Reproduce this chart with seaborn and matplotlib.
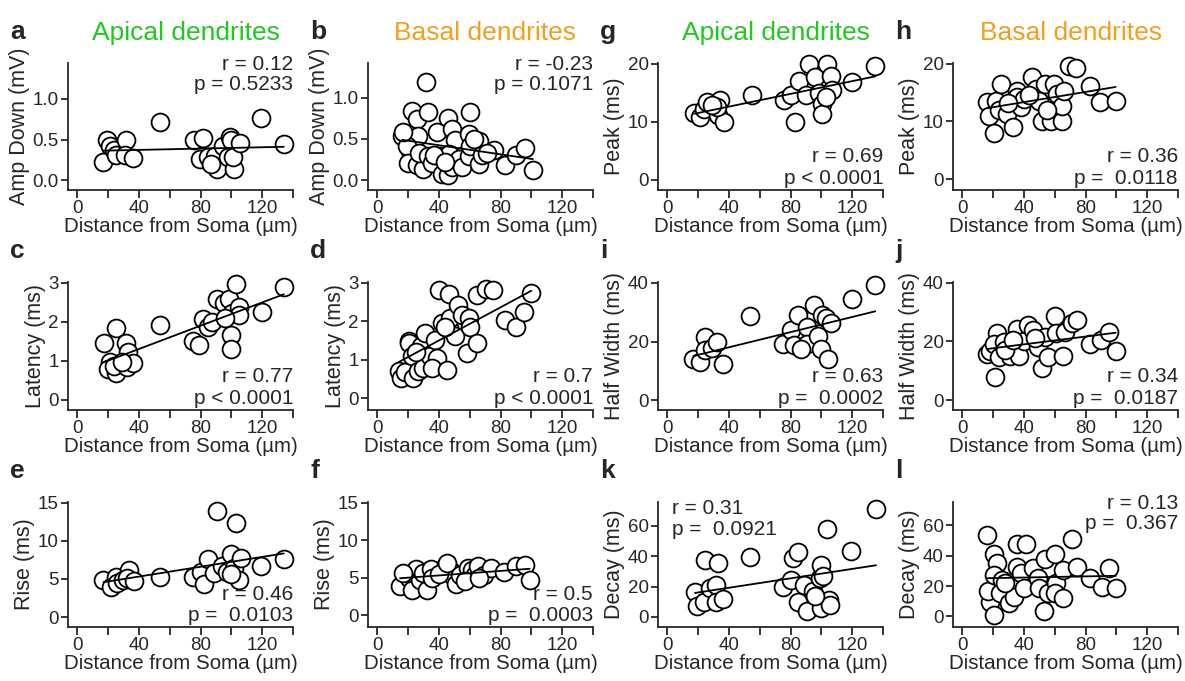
import numpy as np
import pandas as pd
import matplotlib
matplotlib.use("Agg")
import matplotlib.pyplot as plt
import seaborn as sns

sns.set_style("ticks")
plt.rcParams['font.family'] = ['Liberation Sans', 'DejaVu Sans']

# ---------------- data (apical: a,c,e,g,i,k ; basal: b,d,f,h,j,l) ----------------
a_x = [16.7, 19.5, 21, 24, 25, 31.7, 31, 36, 53.7, 75.5, 81.5, 79.4, 85, 89.4, 90.5, 94.8, 98, 99, 100, 102, 101, 105.5, 119.4, 134, 87]
a_y = [0.23, 0.49, 0.42, 0.37, 0.31, 0.49, 0.31, 0.27, 0.72, 0.49, 0.52, 0.26, 0.29, 0.30, 0.14, 0.42, 0.29, 0.53, 0.49, 0.14, 0.29, 0.46, 0.76, 0.45, 0.20]

b_x = [16.2, 22.3, 25.6, 31.7, 33.2, 45.9, 60.5, 26.2, 38.7, 48.5, 50.3, 59.5, 66, 75.6, 83, 90, 96, 101, 21.2, 19, 20, 25.6, 30, 27, 33, 35.4, 40, 42, 46, 46.8, 48.5, 53, 55, 59.5, 60.5, 66, 68, 71.5, 17, 37, 44, 63]
b_y = [0.53, 0.84, 0.74, 1.19, 0.82, 0.75, 0.82, 0.53, 0.58, 0.62, 0.49, 0.56, 0.47, 0.37, 0.18, 0.31, 0.39, 0.12, 0.35, 0.41, 0.21, 0.18, 0.14, 0.33, 0.29, 0.21, 0.29, 0.08, 0.06, 0.32, 0.16, 0.25, 0.16, 0.29, 0.41, 0.19, 0.31, 0.33, 0.58, 0.30, 0.22, 0.50]

c_x = [17.4, 25.4, 31.8, 33, 21, 20, 25.4, 24, 32, 36, 29, 54, 74.8, 79, 81.7, 85, 87.7, 91, 95, 98.5, 102.8, 100.6, 105, 105, 99.6, 99.6, 120, 134, 96]
c_y = [1.46, 1.83, 1.46, 1.22, 0.96, 0.78, 0.70, 0.87, 0.83, 0.94, 0.96, 1.93, 1.52, 1.41, 2.06, 1.87, 2.0, 2.59, 2.48, 2.59, 2.96, 2.22, 2.39, 2.17, 1.65, 1.30, 2.24, 2.89, 2.1]

d_x = [14, 15.7, 17.9, 20.5, 20.5, 22.3, 23.4, 26.7, 28.4, 31, 30, 34.3, 37.6, 39.8, 38.7, 35.4, 45.2, 42, 46.3, 46.3, 47.4, 50.7, 52.2, 55, 58.4, 59.5, 60.5, 64.9, 64.9, 70.4, 74.8, 83, 90, 95, 100, 44, 25]
d_y = [0.71, 0.52, 0.69, 1.50, 1.44, 1.09, 0.54, 0.71, 1.35, 1.69, 0.79, 1.09, 1.52, 2.8, 1.05, 0.79, 0.75, 1.96, 2.72, 1.82, 2.08, 1.61, 2.42, 2.16, 1.18, 2.08, 1.86, 2.68, 1.44, 2.85, 2.8, 2.03, 1.86, 2.23, 2.74, 1.85, 1.2]

e_x = [17, 22, 25, 26, 30, 33.6, 32.5, 37, 54, 75, 80, 82, 84.6, 88.5, 90.8, 94, 97, 99.5, 101.8, 103, 105, 106, 100, 119, 134]
e_y = [4.9, 3.9, 5.3, 4.5, 4.9, 6.2, 5.1, 4.7, 5.2, 5.3, 5.9, 4.4, 7.6, 5.8, 13.9, 6.7, 5.9, 8.3, 6.4, 12.4, 4.9, 7.8, 5.6, 6.7, 7.6]

f_x = [14.8, 19.2, 20.4, 22.6, 25, 28, 30, 32.5, 34.7, 35.8, 44.7, 46.9, 49, 51, 53.5, 59, 61.3, 63.5, 65.7, 69, 73.5, 82.3, 90, 95.6, 98.9, 40, 57, 17, 45, 66]
f_y = [3.9, 5.3, 4.9, 3.4, 6.2, 4.7, 5.6, 3.4, 6.2, 4.9, 6.7, 6.0, 5.2, 4.1, 5.4, 6.3, 6.0, 5.4, 6.5, 5.4, 6.3, 5.8, 6.5, 6.7, 4.7, 5.5, 4.6, 5.6, 6.9, 5.0]

g_x = [17.5, 21.4, 24, 26, 34, 33, 37, 32, 55, 75.5, 80, 82.7, 85.3, 90, 92, 95.6, 98.5, 100.7, 100.7, 103.5, 106, 107, 103, 120, 135, 29]
g_y = [11.4, 10.8, 12.2, 13.4, 13.8, 11.1, 9.9, 12.5, 14.5, 13.7, 14.6, 9.9, 17.0, 14.6, 20.0, 17.7, 14.9, 13.1, 11.3, 20.0, 17.9, 15.5, 14.3, 16.9, 19.5, 12.9]

h_x = [16.2, 17.3, 20.5, 21.6, 24.9, 23.8, 29.2, 33, 35.7, 35.7, 38, 40, 45.4, 47.6, 49.7, 51.9, 54, 57.3, 59.5, 61.6, 64.9, 64.9, 66, 69.2, 74, 83, 89.7, 99.5, 30, 43, 55]
h_y = [13.3, 11.0, 8.0, 13.6, 16.4, 11.9, 11.3, 9.0, 15.3, 14.2, 12.4, 13.9, 17.6, 15.6, 13.6, 10.1, 16.4, 10.1, 16.4, 14.7, 10.1, 12.7, 15.3, 19.6, 19.3, 16.2, 13.3, 13.6, 13.2, 14.5, 12.0]

i_x = [17, 21.5, 24.8, 24.8, 29, 32.5, 36, 54, 75, 80, 82, 85, 90.5, 91, 95, 98, 100.5, 103, 100, 104.6, 106, 120, 135, 87]
i_y = [14.1, 13.2, 21.4, 17.3, 17.9, 20.0, 12.2, 28.8, 19.1, 23.8, 18.8, 29.1, 24.9, 19.3, 32.6, 22.0, 29.1, 27.9, 17.6, 14.0, 26.4, 34.4, 39.4, 17.5]

j_x = [16, 18.2, 21.5, 22.6, 20.4, 23.7, 27, 31, 35.8, 37, 40, 42.4, 45.7, 49, 52, 53.4, 55.6, 60, 61, 65.5, 66.6, 71, 74.3, 83, 90.3, 95, 99.6, 28, 33, 47]
j_y = [15.7, 16.9, 7.9, 22.7, 19.2, 14.6, 19.8, 15.2, 24.2, 15.2, 20.3, 25.6, 23.9, 18.1, 11.1, 21.6, 14.6, 28.6, 22.7, 15.2, 23.3, 26.2, 27.4, 19.2, 20.4, 23.3, 16.6, 17.0, 20.5, 21.0]

k_x = [18, 19.5, 24.5, 24, 28, 32.7, 31.6, 31.6, 36, 53.7, 75, 80, 81.4, 84.6, 85, 89, 90.8, 94.6, 99, 100, 101, 100, 103.4, 105, 105.5, 119.5, 135.5, 96]
k_y = [16.5, 7.0, 37.4, 9.9, 18.7, 35.2, 20.9, 9.9, 12.1, 39.6, 19.8, 24.2, 38.5, 42.4, 9.5, 20.9, 3.7, 16.9, 25.3, 34.0, 26.8, 5.9, 57.8, 11.0, 7.7, 43.3, 71.0, 14.0]

l_x = [16, 18.2, 17, 20.4, 20.4, 22.6, 20.4, 25.9, 24.8, 30.3, 33.6, 35.8, 41.3, 35.8, 38, 40, 45.7, 49, 50, 53, 53.4, 55.6, 60, 61, 60, 65.5, 65.5, 71, 74.3, 83, 90.8, 95, 99.6, 28]
l_y = [53.5, 9.8, 16.8, 0.7, 41.5, 35.0, 27.3, 24.0, 15.3, 8.7, 13.1, 48.0, 48.0, 32.8, 28.4, 18.6, 31.7, 25.1, 18.6, 3.7, 38.2, 15.3, 41.5, 21.8, 15.3, 12.0, 30.6, 50.9, 32.8, 25.6, 19.7, 31.7, 19.0, 22.0]

letters = ['a', 'b', 'g', 'h', 'c', 'd', 'i', 'j', 'e', 'f', 'k', 'l']
ylabels = ['Amp Down (mV)', 'Amp Down (mV)', 'Peak (ms)', 'Peak (ms)',
           'Latency (ms)', 'Latency (ms)', 'Half Width (ms)', 'Half Width (ms)',
           'Rise (ms)', 'Rise (ms)', 'Decay (ms)', 'Decay (ms)']
r_texts = ['r = 0.12', 'r = -0.23', 'r = 0.69', 'r = 0.36',
           'r = 0.77', 'r = 0.7', 'r = 0.63', 'r = 0.34',
           'r = 0.46', 'r = 0.5', 'r = 0.31', 'r = 0.13']
p_texts = ['p = 0.5233', 'p = 0.1071', 'p < 0.0001', 'p =  0.0118',
           'p < 0.0001', 'p < 0.0001', 'p =  0.0002', 'p =  0.0187',
           'p =  0.0103', 'p =  0.0003', 'p =  0.0921', 'p =  0.367']
titles = ['Apical dendrites', 'Basal dendrites']

data = {'a': (a_x, a_y), 'b': (b_x, b_y), 'c': (c_x, c_y), 'd': (d_x, d_y),
        'e': (e_x, e_y), 'f': (f_x, f_y), 'g': (g_x, g_y), 'h': (h_x, h_y),
        'i': (i_x, i_y), 'j': (j_x, j_y), 'k': (k_x, k_y), 'l': (l_x, l_y)}

# ---------------- layout (pixels) ----------------
W, H = 1185, 681
fig = plt.figure(figsize=(W / 100, H / 100), dpi=100)
col_left = [68, 368, 658, 953]
col_w = 225
row_top = [63, 282, 502]
row_bot = [190, 410, 627]

ylims = {'a': (-0.12, 1.44), 'b': (-0.12, 1.42), 'g': (-1.8, 20.1), 'h': (-1.9, 20.1),
         'c': (-0.26, 3.02), 'd': (-0.3, 3.02), 'i': (-3.3, 40.3), 'j': (-3.3, 40.2),
         'e': (-1.3, 15.1), 'f': (-1.6, 15.1), 'k': (-6.6, 75.5), 'l': (-7, 75.5)}
yticks = {'a': [0, 0.5, 1.0], 'b': [0, 0.5, 1.0], 'g': [0, 10, 20], 'h': [0, 10, 20],
          'c': [0, 1, 2, 3], 'd': [0, 1, 2, 3], 'i': [0, 20, 40], 'j': [0, 20, 40],
          'e': [0, 5, 10, 15], 'f': [0, 5, 10, 15], 'k': [0, 20, 40, 60], 'l': [0, 20, 40, 60]}
ann_pos = {'a': 'tr', 'b': 'tr', 'g': 'br', 'h': 'br', 'c': 'br', 'd': 'br',
           'i': 'br', 'j': 'br', 'e': 'br', 'f': 'br', 'k': 'tl', 'l': 'tr'}

green = '#22c71f'
orange = '#f0a01c'

for idx, let in enumerate(letters):
    r, c = divmod(idx, 4)
    l = col_left[c]
    t = row_top[r]
    b = row_bot[r]
    ax = fig.add_axes([l / W, 1 - b / H, col_w / W, (b - t) / H])
    xs, ys = data[let]
    df = pd.DataFrame({'x': xs, 'y': ys})
    sns.scatterplot(data=df, x='x', y='y', ax=ax, s=165, color='white',
                    edgecolor='black', linewidth=1.3, zorder=2, clip_on=False)
    sns.regplot(data=df, x='x', y='y', ax=ax, scatter=False, ci=None, truncate=True,
                line_kws={'color': 'black', 'lw': 1.3, 'zorder': 3})
    ax.set_xlim(-6, 140)
    ax.set_ylim(*ylims[let])
    ax.set_xticks([0, 40, 80, 120])
    ax.set_xticks([20, 60, 100, 140], minor=True)
    ax.set_yticks(yticks[let])
    if let in ('a', 'b'):
        ax.set_yticklabels(['0.0', '0.5', '1.0'])
    ax.tick_params(axis='x', which='both', direction='out', length=6, width=1.3,
                   labelsize=13.5, pad=1.5)
    ax.tick_params(axis='y', which='both', direction='out', length=5, width=1.3,
                   labelsize=13.5, pad=1.5)
    for sp in ['top', 'right']:
        ax.spines[sp].set_visible(False)
    for sp in ['left', 'bottom']:
        ax.spines[sp].set_linewidth(1.3)
    ax.set_xlabel('Distance from Soma (µm)', fontsize=14.8, labelpad=0)
    ax.set_ylabel(ylabels[idx], fontsize=15.5, labelpad=2)

    pos = ann_pos[let]
    if pos == 'tr':
        ax.text(1.0, 0.99, r_texts[idx], transform=ax.transAxes, ha='right', va='center', fontsize=15)
        ax.text(1.0, 0.83, p_texts[idx], transform=ax.transAxes, ha='right', va='center', fontsize=15)
    elif pos == 'br':
        ax.text(1.0, 0.26, r_texts[idx], transform=ax.transAxes, ha='right', va='center', fontsize=15)
        ax.text(1.0, 0.09, p_texts[idx], transform=ax.transAxes, ha='right', va='center', fontsize=15)
    else:
        ax.text(0.06, 0.95, r_texts[idx], transform=ax.transAxes, ha='left', va='center', fontsize=15)
        ax.text(0.06, 0.78, p_texts[idx], transform=ax.transAxes, ha='left', va='center', fontsize=15)

    fig.text((l - 58) / W, 1 - (t - 31) / H, let, fontsize=19, fontweight='bold',
             ha='left', va='center')
    if r == 0:
        col_title = titles[c % 2]
        fig.text((l + col_w / 2 + 5) / W, 1 - 33 / H, col_title, fontsize=19,
                 color=green if c % 2 == 0 else orange, ha='center', va='center')

fig.savefig('out.png', dpi=100)
